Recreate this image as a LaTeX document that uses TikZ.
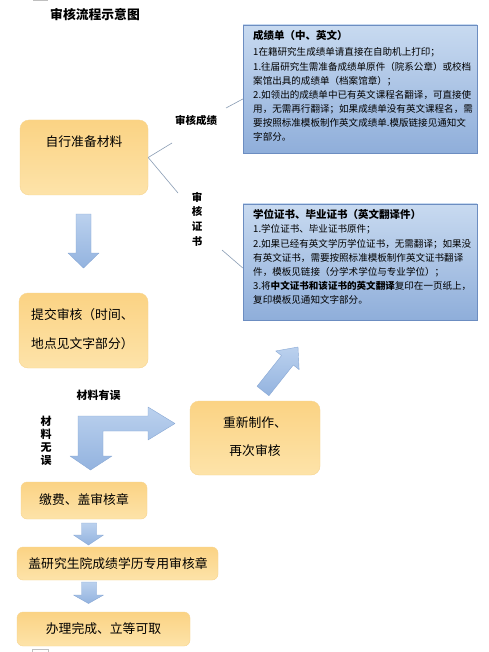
\documentclass[tikz,border=0pt]{standalone}
\usepackage{fontspec}
\setmainfont{Noto Sans CJK SC}

\definecolor{boxtop}{HTML}{FBD384}
\definecolor{boxbot}{HTML}{FDE3A9}
\definecolor{boxline}{HTML}{F7D48F}
\definecolor{notetop}{HTML}{C8DAF0}
\definecolor{notebot}{HTML}{8FAEDA}
\definecolor{noteline}{HTML}{6C8DC1}
\definecolor{arrtop}{HTML}{BBD1EE}
\definecolor{arrbot}{HTML}{93B3DF}
\definecolor{arrline}{HTML}{88A8D5}
\definecolor{connc}{HTML}{8A9DB5}

\begin{document}
\begin{tikzpicture}[x=1pt,y=-1pt,
    orangebox/.style={rounded corners=9pt, draw=boxline, top color=boxtop, bottom color=boxbot, inner sep=0pt},
    smallbox/.style={orangebox, rounded corners=6pt},
    notebox/.style={draw=noteline, top color=notetop, bottom color=notebot, inner sep=0pt},
    notetext/.style={anchor=north west, inner sep=0pt, align=left, font=\fontsize{9.55}{14.1}\selectfont},
    blockarrow/.style={draw=arrline, top color=arrtop, bottom color=arrbot, line join=round},
    connline/.style={draw=connc, line width=0.6pt},
    boxtext/.style={inner sep=0pt, align=center, font=\fontsize{12.8}{28}\selectfont},
    tag/.style={inner sep=0pt, align=center, font=\fontsize{10.5}{14.7}\selectfont\bfseries}]
      \useasboundingbox (0,0) rectangle (488,652);
      \fill[white] (0,0) rectangle (488,652);

      % TITLE
      \node[inner sep=0pt, font=\fontsize{12.8}{14}\selectfont\bfseries] (title) at (95,15) {审核流程示意图};
      \draw[gray!50, line width=1.5pt] (33,0.5) -- (48,0.5);
      \draw[gray!50] (32.5,649.5) rectangle (48,656);

      % BOXES
      \node[orangebox, minimum width=128, minimum height=75] (prep) at (84,157.5) {};
      \node[boxtext] (preptxt) at (84,142) {自行准备材料};
      \node[orangebox, minimum width=129, minimum height=75] (submit) at (83.5,330.5) {};
      \node[boxtext, align=left, anchor=west, font=\fontsize{12.8}{29}\selectfont] (submittxt) at (31,329.5) {提交审核（时间、\\地点见文字部分）};
      \node[orangebox, minimum width=130, minimum height=74] (redo) at (255,438) {};
      \node[boxtext] (redotxt) at (255,437) {重新制作、\\再次审核};
      \node[smallbox, minimum width=126, minimum height=37] (pay) at (84,500.5) {};
      \node[boxtext] (paytxt) at (84,500) {缴费、盖审核章};
      \node[smallbox, minimum width=201, minimum height=33] (stamp) at (117.5,563.5) {};
      \node[boxtext] (stamptxt) at (118,563.5) {盖研究生院成绩学历专用审核章};
      \node[smallbox, minimum width=173, minimum height=34] (done) at (103.5,629) {};
      \node[boxtext] (donetxt) at (103.5,629) {办理完成、立等可取};

      % NOTES
      \node[notebox, minimum width=234, minimum height=128] (scorebox) at (360,89) {};
      \node[notetext] (scoretxt) at (253,30) {{\fontsize{10.5}{14}\selectfont\bfseries 成绩单（中、英文）}\\[2.5pt]
        1在籍研究生成绩单请直接在自助机上打印；\\
        1.往届研究生需准备成绩单原件（院系公章）或校档\\
        案馆出具的成绩单（档案馆章）；\\
        2.如领出的成绩单中已有英文课程名翻译，可直接使\\
        用，无需再行翻译；如果成绩单没有英文课程名，需\\
        要按照标准模板制作英文成绩单.模版链接见通知文\\
        字部分。};
      \node[notebox, minimum width=234, minimum height=116] (certbox) at (360,262) {};
      \node[notetext] (certtxt) at (253,209) {{\fontsize{10.5}{14}\selectfont\bfseries 学位证书、毕业证书（英文翻译件）}\\[0.5pt]
        1.学位证书、毕业证书原件；\\
        2.如果已经有英文学历学位证书，无需翻译；如果没\\
        有英文证书，需要按照标准模板制作英文证书翻译\\
        件，模板见链接（分学术学位与专业学位）；\\
        3.将\textbf{中文证书和该证书的英文翻译}复印在一页纸上，\\
        复印模板见通知文字部分。};

      % LABELS
      \coordinate (c1) at (172,143);
      \coordinate (c2) at (178,193);
      \coordinate (c3) at (226,108);
      \coordinate (c4) at (222,250);
      \node[tag] (lblscore) at (196,121) {审核成绩};
      \node[tag] (lblcert) at (197,219) {审\\核\\证\\书};
      \node[tag, font=\fontsize{11}{12.5}\selectfont\bfseries] (lblwrong) at (98.5,395) {材料有误};
      \node[tag, font=\fontsize{11}{12.8}\selectfont\bfseries] (lblright) at (46,441) {材\\料\\无\\误};

      % CONNECTORS
      \draw[connline] (prep.east) -- (c1);
      \draw[connline] (prep.east) -- (c2);
      \draw[connline] (c3) -- ([yshift=-10pt]scorebox.west);
      \draw[connline] (c4) -- ([yshift=-6pt]certbox.west);

      % ARROWS
      \draw[blockarrow] (76,214) -- (91,214) -- (91,253) -- (99,253) -- (83.5,268) -- (68,253) -- (76,253) -- cycle;
      \draw[blockarrow] (78,416) -- (148,416) -- (148,407) -- (175,423.5) -- (148,440) -- (148,431) -- (103,431)
        -- (103,456) -- (112,456) -- (90.5,470) -- (70,456) -- (78,456) -- cycle;
      \draw[blockarrow] (257.1,386.3) -- (281.5,355.6) -- (275.7,351) -- (298,347) -- (299.1,369.6) -- (293.3,365)
        -- (268.9,395.7) -- cycle;
      \draw[blockarrow] (81.5,523) -- (96.5,523) -- (96.5,535) -- (103.5,535) -- (88.5,545) -- (73.5,535) -- (81.5,535) -- cycle;
      \draw[blockarrow] (81.5,582) -- (96.5,582) -- (96.5,595) -- (103.5,595) -- (88.5,603.5) -- (73.5,595) -- (81.5,595) -- cycle;
    \end{tikzpicture}
\end{document}
